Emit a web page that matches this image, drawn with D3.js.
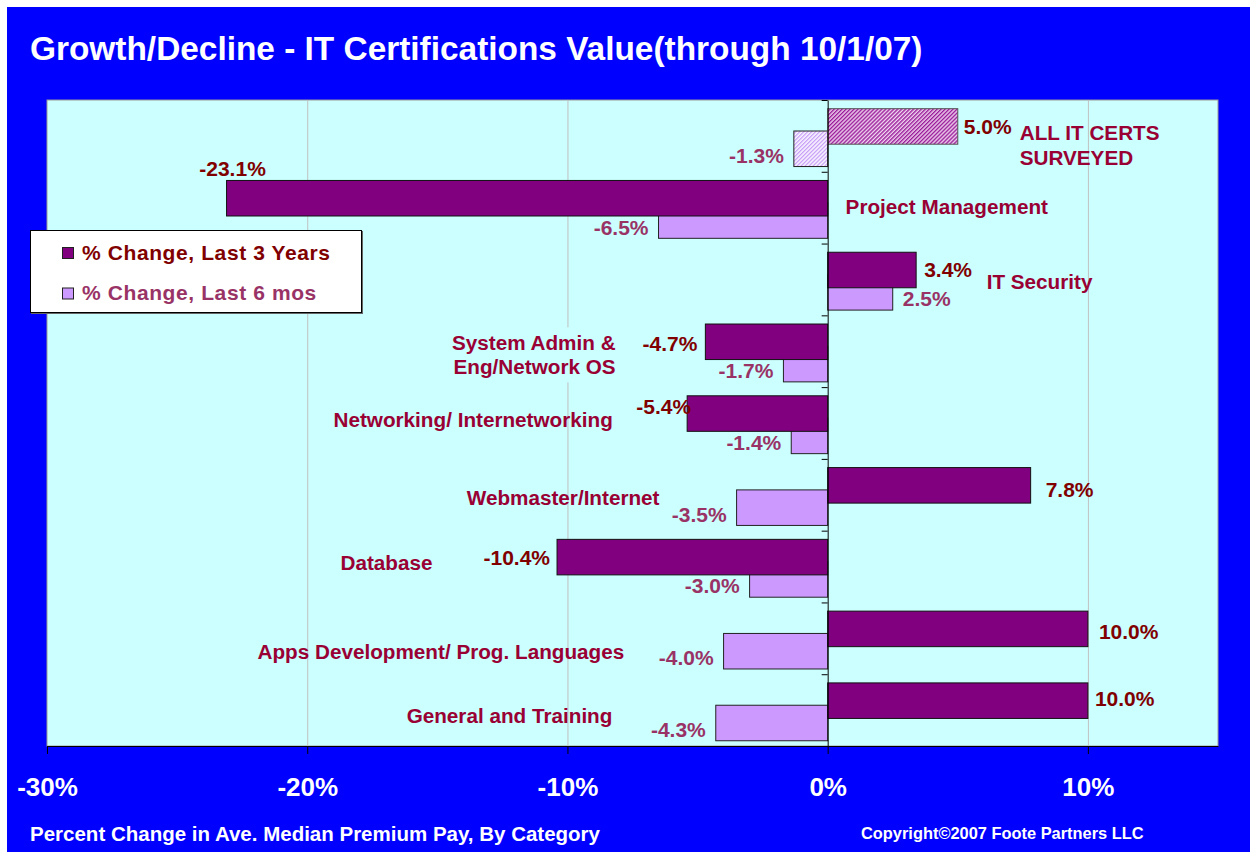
<!DOCTYPE html>
<html><head><meta charset="utf-8">
<script src="https://cdn.jsdelivr.net/npm/d3@7"></script>
<style>
body{margin:0;background:#fff;}
svg{display:block;}
text{font-family:"Liberation Sans",Arial,Helvetica,sans-serif;font-weight:bold;}
</style>
</head><body>
<svg id="c" width="1257" height="859"></svg>
<script>
// ---------- DATA ----------
const categories = [
  "ALL IT CERTS\nSURVEYED",
  "Project Management",
  "IT Security",
  "System Admin &\nEng/Network OS",
  "Networking/ Internetworking",
  "Webmaster/Internet",
  "Database",
  "Apps Development/ Prog. Languages",
  "General and Training"
];
const change3yr = [5.0, -23.1, 3.4, -4.7, -5.4, 7.8, -10.4, 10.0, 10.0];
const change6mo = [-1.3, -6.5, 2.5, -1.7, -1.4, -3.5, -3.0, -4.0, -4.3];
const seriesNames = ["% Change, Last 3 Years", "% Change, Last 6 mos"];
const xTicks = [-30, -20, -10, 0, 10];
const titleText = "Growth/Decline - IT Certifications Value(through 10/1/07)";
const axisTitle = "Percent Change in Ave. Median Premium Pay, By Category";
const copyright = "Copyright\u00A92007 Foote Partners LLC";

// ---------- LAYOUT (label placement, not data) ----------
const catLabelLayout = [
  {x: 7.38,  anchor: "start", dy: 40,   lh: 25},
  {x: 0.69,  anchor: "start", dy: 42.5},
  {x: 6.11,  anchor: "start", dy: 45.5},
  {x: -8.15, anchor: "end",   dy: 35,   lh: 24, box: true},
  {x: -18.99,anchor: "start", dy: 40},
  {x: -13.87,anchor: "start", dy: 46.5},
  {x: -18.72,anchor: "start", dy: 39.5},
  {x: -21.91,anchor: "start", dy: 57},
  {x: -16.18,anchor: "start", dy: 49}
];
const darkNudge = [[-3,0],"above",[-1,-1],[1,1],[13,-7.5],[6,4],[2,0],[2,2],[-2,-3]];

// ---------- COLOURS ----------
const C = {
  bg: "#0000FF", plot: "#CCFFFF", grid: "#C0C0C0",
  dark: "#800080", light: "#CC99FF",
  darkLbl: "#800000", lightLbl: "#993366", cat: "#990033"
};

const svg = d3.select("#c");
svg.append("rect").attr("x", 7).attr("y", 7).attr("width", 1243).attr("height", 845).attr("fill", C.bg);

const defs = svg.append("defs");
function hatch(id, line, base) {
  const p = defs.append("pattern").attr("id", id).attr("patternUnits", "userSpaceOnUse")
    .attr("width", 2.8).attr("height", 2.8).attr("patternTransform", "rotate(45)");
  p.append("rect").attr("width", 2.8).attr("height", 2.8).attr("fill", base);
  p.append("rect").attr("width", 1.4).attr("height", 2.8).attr("fill", line);
}
hatch("hDark", "#9a1a9a", "#F0D8F0");
hatch("hLight", "#C8A0F8", "#FFFFFF");

const plot = {l: 47, r: 1218, t: 100, b: 746};
const x = d3.scaleLinear().domain([-30, 15]).range([plot.l, plot.r]);
const y = d3.scaleBand().domain(d3.range(categories.length)).range([plot.t, plot.b]).padding(0);
const step = y.step();
const darkOff = step * 0.121, lightOff = step * 0.432, barH = step * 0.495;

// plot area
svg.append("rect").attr("x", plot.l).attr("y", plot.t)
  .attr("width", plot.r - plot.l).attr("height", plot.b - plot.t)
  .attr("fill", C.plot).attr("stroke", "#9a9a9a").attr("stroke-width", 1);

// gridlines
svg.append("g").selectAll("line").data(xTicks.filter(d => d !== 0 && d !== -30)).join("line")
  .attr("x1", d => x(d) + 0.5).attr("x2", d => x(d) + 0.5)
  .attr("y1", plot.t).attr("y2", plot.b)
  .attr("stroke", C.grid).attr("stroke-width", 1);

// category labels
const catG = svg.append("g");
categories.forEach((name, i) => {
  const L = catLabelLayout[i];
  const lines = name.split("\n");
  const t = catG.append("text")
    .attr("x", x(L.x)).attr("y", y(i) + L.dy)
    .attr("text-anchor", L.anchor).attr("fill", C.cat)
    .style("font-size", "20.7px");
  lines.forEach((ln, k) => {
    t.append("tspan").attr("x", x(L.x)).attr("y", y(i) + L.dy + k * (L.lh || 24)).text(ln);
  });
  if (L.box) {
    const bb = t.node().getBBox();
    catG.insert("rect", "text").attr("x", bb.x - 4).attr("y", bb.y - 4)
      .attr("width", bb.width + 8).attr("height", bb.height + 8).attr("fill", C.plot);
  }
});

// bars: light series first, dark on top
const idx = d3.range(categories.length);
svg.append("g").selectAll("rect").data(idx).join("rect")
  .attr("x", i => x(Math.min(0, change6mo[i])))
  .attr("width", i => Math.abs(x(change6mo[i]) - x(0)))
  .attr("y", i => y(i) + lightOff).attr("height", barH)
  .attr("fill", i => i === 0 ? "url(#hLight)" : C.light)
  .attr("stroke", "#222").attr("stroke-width", 1);
svg.append("g").selectAll("rect").data(idx).join("rect")
  .attr("x", i => x(Math.min(0, change3yr[i])))
  .attr("width", i => Math.abs(x(change3yr[i]) - x(0)))
  .attr("y", i => y(i) + darkOff).attr("height", barH)
  .attr("fill", i => i === 0 ? "url(#hDark)" : C.dark)
  .attr("stroke", i => i === 0 ? "#555" : "#111").attr("stroke-width", 1);

// y axis (category boundaries) at 0
const yB = d3.scaleLinear().domain([0, categories.length]).range([plot.t, plot.b]);
const yAx = svg.append("g").attr("transform", `translate(${x(0)},0)`)
  .call(d3.axisLeft(yB).tickValues(d3.range(0, categories.length)).tickSize(6).tickSizeOuter(0).tickFormat(""));
yAx.select(".domain").attr("stroke", "#000");
yAx.selectAll(".tick line").attr("stroke", "#000");

// x axis
const xAx = svg.append("g").attr("transform", `translate(0,${plot.b})`)
  .call(d3.axisBottom(x).tickValues(xTicks).tickSize(8).tickSizeOuter(0).tickFormat(d => d + "%"));
xAx.select(".domain").attr("stroke", "#000");
xAx.selectAll(".tick line").attr("stroke", "#000");
xAx.selectAll("text").attr("y", 50).attr("dy", null).attr("fill", "#fff")
  .style("font-size", "26px").style("font-family", '"Liberation Sans",Arial,sans-serif').style("font-weight", "bold");

// value labels
const fmt = v => v.toFixed(1) + "%";
const valG = svg.append("g").style("font-size", "21px");
idx.forEach(i => {
  const v = change3yr[i];
  const cy = y(i) + darkOff + barH / 2;
  const n = darkNudge[i];
  const t = valG.append("text").attr("fill", C.darkLbl).text(fmt(v));
  if (n === "above") {
    t.attr("x", x(v) + 6).attr("y", y(i) + darkOff - 4).attr("text-anchor", "middle");
  } else {
    const dir = v >= 0 ? 1 : -1;
    t.attr("x", x(v) + dir * 9 + n[0]).attr("y", cy + 8 + n[1])
      .attr("text-anchor", v >= 0 ? "start" : "end");
  }
});
idx.forEach(i => {
  const v = change6mo[i];
  const cy = y(i) + lightOff + barH / 2;
  const dir = v >= 0 ? 1 : -1;
  valG.append("text").attr("fill", C.lightLbl).text(fmt(v))
    .attr("x", x(v) + dir * 10).attr("y", cy + 14)
    .attr("text-anchor", v >= 0 ? "start" : "end");
});

// legend
const lg = svg.append("g");
lg.append("rect").attr("x", 31).attr("y", 231).attr("width", 332).attr("height", 83).attr("fill", "#666");
lg.append("rect").attr("x", 30.5).attr("y", 230.5).attr("width", 331).attr("height", 82)
  .attr("fill", "#fff").attr("stroke", "#000").attr("stroke-width", 1);
[C.dark, C.light].forEach((col, k) => {
  const yy = 247 + k * 40.5;
  lg.append("rect").attr("x", 62.5).attr("y", yy + 0.5).attr("width", 11).attr("height", 11)
    .attr("fill", col).attr("stroke", "#222").attr("stroke-width", 1);
  lg.append("text").attr("x", 82).attr("y", yy + 12.5)
    .attr("fill", k === 0 ? C.darkLbl : C.lightLbl)
    .style("font-size", "21px").style("letter-spacing", "0.6px")
    .text(seriesNames[k]);
});

// titles
svg.append("text").attr("x", 30).attr("y", 60).attr("fill", "#fff").style("font-size", "33.4px").text(titleText);
svg.append("text").attr("x", 30).attr("y", 841).attr("fill", "#fff").style("font-size", "20.5px").text(axisTitle);
svg.append("text").attr("x", 861).attr("y", 839).attr("fill", "#fff").style("font-size", "16.4px").text(copyright);
</script>
</body></html>
